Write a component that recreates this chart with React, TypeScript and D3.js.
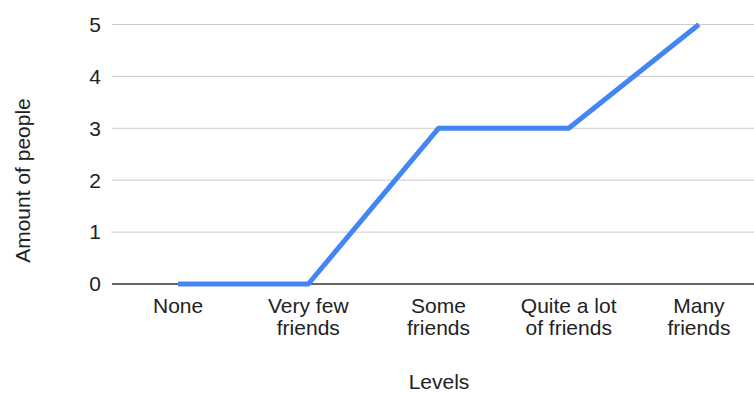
import React from "react";
import * as d3 from "d3";

const levels = [
  ["None"],
  ["Very few", "friends"],
  ["Some", "friends"],
  ["Quite a lot", "of friends"],
  ["Many", "friends"],
];
const people = [0, 0, 3, 3, 5];
const yTicks = [0, 1, 2, 3, 4, 5];

const W = 754;
const H = 393;
const FONT = "'Liberation Sans', Arial, sans-serif";
const FS = 21;

export default function App() {
  const keys = levels.map((l) => l.join(" "));
  const x = d3.scalePoint<string>().domain(keys).range([113, 764]).padding(0.5);
  const y = d3.scaleLinear().domain([0, 5]).range([284, 24.5]);

  const line = d3
    .line<number>()
    .x((_, i) => x(keys[i]) as number)
    .y((d) => y(d));

  return (
    <svg
      width={W}
      height={H}
      style={{ position: "absolute", left: 0, top: 0, background: "#fff" }}
      fontFamily={FONT}
    >
      {/* horizontal gridlines */}
      {yTicks.map((t) => (
        <line
          key={`g${t}`}
          x1={112}
          x2={W}
          y1={y(t)}
          y2={y(t)}
          stroke={t === 0 ? "#333" : "#ccc"}
          strokeWidth={t === 0 ? 1.5 : 1}
        />
      ))}
      {/* y tick labels */}
      {yTicks.map((t) => (
        <text
          key={`t${t}`}
          x={101}
          y={y(t)}
          dy="0.35em"
          textAnchor="end"
          fontSize={FS}
          fill="#222"
        >
          {t}
        </text>
      ))}
      {/* category labels */}
      {levels.map((lines, i) => (
        <text
          key={keys[i]}
          x={x(keys[i])}
          y={313}
          textAnchor="middle"
          fontSize={FS}
          fill="#222"
        >
          {lines.map((s, j) => (
            <tspan key={j} x={x(keys[i])} dy={j === 0 ? 0 : 22}>
              {s}
            </tspan>
          ))}
        </text>
      ))}
      {/* data line */}
      <path
        d={line(people) ?? ""}
        fill="none"
        stroke="#4285F4"
        strokeWidth={5}
        strokeLinejoin="round"
      />
      {/* axis titles */}
      <text x={439} y={389} textAnchor="middle" fontSize={FS} fill="#222">
        Levels
      </text>
      <text
        transform={`translate(30,180.5) rotate(-90)`}
        textAnchor="middle"
        fontSize={FS}
        fill="#222"
      >
        Amount of people
      </text>
    </svg>
  );
}
